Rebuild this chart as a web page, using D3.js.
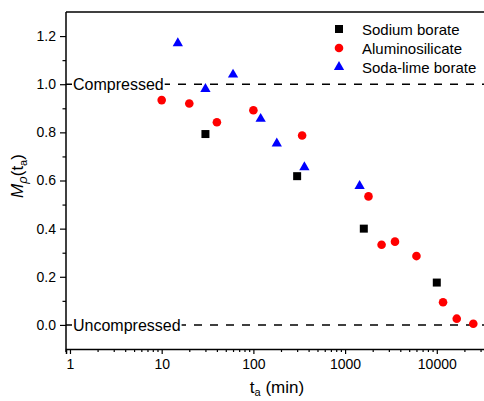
<!DOCTYPE html>
<html>
<head>
<meta charset="utf-8">
<script src="https://cdn.jsdelivr.net/npm/d3@7"></script>
<style>
  html, body { margin: 0; padding: 0; background: #fff; }
  svg { display: block; font-family: "Liberation Sans", Arial, sans-serif; }
</style>
</head>
<body>
<svg id="chart" width="484" height="401"></svg>
<script>
// Relaxation of the density-based order parameter M_rho versus annealing time
const sodiumT = [30, 300, 1600, 10000];
const sodiumM = [0.793, 0.618, 0.40, 0.176];

const aluminoT = [10, 20, 40, 100, 340, 1800, 2500, 3500, 6000, 11700, 16500, 25000];
const aluminoM = [0.934, 0.920, 0.842, 0.892, 0.787, 0.534, 0.333, 0.346, 0.286, 0.094, 0.026, 0.005];

const sodaT = [15, 30, 60, 120, 180, 360, 1440];
const sodaM = [1.17, 0.98, 1.04, 0.856, 0.754, 0.655, 0.577];

const xMajor = [1, 10, 100, 1000, 10000];
const yMajor = [0.0, 0.2, 0.4, 0.6, 0.8, 1.0, 1.2];
const yMinor = [0.1, 0.3, 0.5, 0.7, 0.9, 1.1];

const seriesNames = ["Sodium borate", "Aluminosilicate", "Soda-lime borate"];
const refLevels = [1.0, 0.0];
const refLabels = ["Compressed", "Uncompressed"];

const svg = d3.select("#chart");
const pL = 66, pR = 486, pT = 12, pB = 349;

const x = d3.scaleLog().domain([0.905, 34400]).range([pL, pR]);
const y = d3.scaleLinear().domain([-0.1, 1.3]).range([pB, pT]);

// minor log ticks 2..9 per decade
const xMinor = [];
for (let d = 1; d <= 10000; d *= 10) {
  for (let k = 2; k <= 9; k++) {
    const v = d * k;
    if (v <= 34400) xMinor.push(v);
  }
}

// reference levels (dashed), then their labels on a white patch
const refLines = svg.append("g");
const refText = svg.append("g");
refLevels.forEach((lv, i) => {
  refLines.append("line")
    .attr("x1", pL).attr("x2", pR)
    .attr("y1", y(lv)).attr("y2", y(lv))
    .attr("stroke", "#000").attr("stroke-width", 1.5)
    .attr("stroke-dasharray", "8,8");
  const bg = refText.append("rect").attr("fill", "#fff");
  const t = refText.append("text")
    .attr("x", 73).attr("y", y(lv) + 6)
    .attr("font-size", 16)
    .attr("fill", "#000")
    .text(refLabels[i]);
  const bb = t.node().getBBox();
  bg.attr("x", bb.x - 1).attr("y", y(lv) - 3)
    .attr("width", bb.width + 2).attr("height", 6);
});

// frame: top border
svg.append("line")
  .attr("x1", pL).attr("x2", pR)
  .attr("y1", pT).attr("y2", pT)
  .attr("stroke", "#000").attr("stroke-width", 1.5);

// axes
const yAxis = svg.append("g").attr("transform", `translate(${pL},0)`)
  .call(d3.axisLeft(y).tickValues(yMajor).tickFormat(d3.format(".1f")).tickSize(6).tickPadding(4));
const yAxisMinor = svg.append("g").attr("transform", `translate(${pL},0)`)
  .call(d3.axisLeft(y).tickValues(yMinor).tickFormat("").tickSize(3.5));
const xAxis = svg.append("g").attr("transform", `translate(0,${pB})`)
  .call(d3.axisBottom(x).tickValues(xMajor).tickFormat(d3.format("d")).tickSize(5).tickPadding(5));
const xAxisMinor = svg.append("g").attr("transform", `translate(0,${pB})`)
  .call(d3.axisBottom(x).tickValues(xMinor).tickFormat("").tickSize(3));

[yAxis, yAxisMinor, xAxis, xAxisMinor].forEach(g => {
  g.select(".domain").attr("stroke", "#000").attr("stroke-width", 1.5);
  g.selectAll(".tick line").attr("stroke", "#000").attr("stroke-width", 1.2);
  g.selectAll("text").attr("font-size", 14).attr("fill", "#000")
    .attr("font-family", "'Liberation Sans', Arial, sans-serif");
});
yAxis.select(".domain").attr("d", `M0,${pT}V${pB + 3}`);
yAxisMinor.select(".domain").remove();
xAxisMinor.select(".domain").remove();

// axis titles
const xt = svg.append("text")
  .attr("x", 277).attr("y", 393)
  .attr("text-anchor", "middle")
  .attr("font-size", 17).attr("fill", "#000");
xt.append("tspan").text("t");
xt.append("tspan").attr("font-size", 11).attr("dy", 3).text("a");
xt.append("tspan").attr("dy", -3).text(" (min)");

const yt = svg.append("text")
  .attr("transform", "translate(23,176) rotate(-90)")
  .attr("text-anchor", "middle")
  .attr("font-size", 17).attr("fill", "#000");
yt.append("tspan").attr("font-style", "italic").text("M");
yt.append("tspan").attr("font-style", "italic").attr("font-size", 13).attr("dy", 4).text("ρ");
yt.append("tspan").attr("dy", -4).text("(t");
yt.append("tspan").attr("font-size", 11).attr("dy", 4).text("a");
yt.append("tspan").attr("dy", -4).text(")");

// markers
const symSquare = d3.symbol().type(d3.symbolSquare).size(64);
const symTri = d3.symbol().type(d3.symbolTriangle).size(46);
const plot = svg.append("g");

plot.selectAll(".sq").data(sodiumT.map((t, i) => [t, sodiumM[i]])).join("path")
  .attr("d", symSquare)
  .attr("transform", d => `translate(${x(d[0])},${y(d[1])})`)
  .attr("fill", "#000");

plot.selectAll(".ci").data(aluminoT.map((t, i) => [t, aluminoM[i]])).join("circle")
  .attr("cx", d => x(d[0])).attr("cy", d => y(d[1])).attr("r", 4.3)
  .attr("fill", "#ff0000");

plot.selectAll(".tr").data(sodaT.map((t, i) => [t, sodaM[i]])).join("path")
  .attr("d", symTri)
  .attr("transform", d => `translate(${x(d[0])},${y(d[1])})`)
  .attr("fill", "#0000ff");

// legend
const legY = [29, 48, 67];
const leg = svg.append("g");
leg.append("path").attr("d", symSquare).attr("transform", `translate(339,${legY[0]})`).attr("fill", "#000");
leg.append("circle").attr("cx", 339).attr("cy", legY[1]).attr("r", 4.3).attr("fill", "#ff0000");
leg.append("path").attr("d", symTri).attr("transform", `translate(339,${legY[2]})`).attr("fill", "#0000ff");
seriesNames.forEach((n, i) => {
  leg.append("text").attr("x", 362).attr("y", legY[i] + 5.5)
    .attr("font-size", 15).attr("fill", "#000").text(n);
});
</script>
</body>
</html>
